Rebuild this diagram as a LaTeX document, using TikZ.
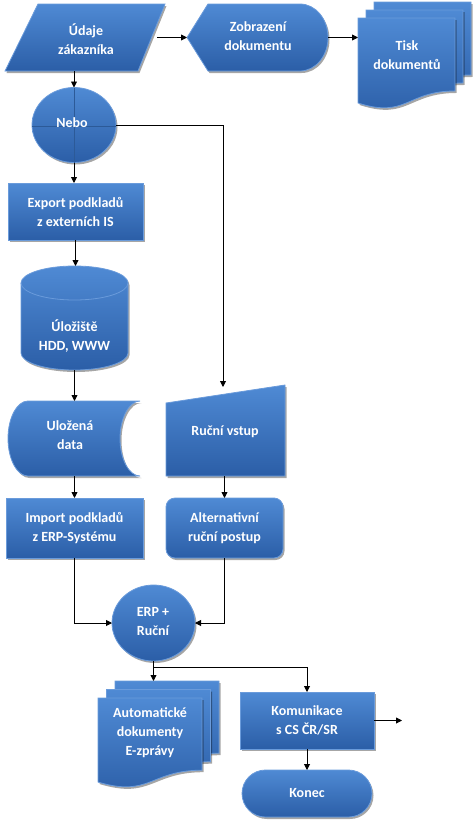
\documentclass[tikz,border=0pt]{standalone}
\usepackage{fontspec}
\setmainfont{Carlito}
\usetikzlibrary{shadows,arrows.meta,calc}
\definecolor{bltop}{HTML}{4F8AD4}
\definecolor{blbot}{HTML}{2B5EA7}
\definecolor{bledge}{HTML}{6A9BDB}
\definecolor{blline}{HTML}{2C5A98}
\newcommand\mydoc[4]{%
 \path[shp] (#1,#2) -- ({#1+#3},#2) -- ({#1+#3},{#2+0.802*#4})
   .. controls ({#1+0.5*#3},{#2+0.802*#4}) and ({#1+0.5*#3},{#2+1.107*#4}) .. (#1,{#2+0.934*#4}) -- cycle;}
\begin{document}
\begin{tikzpicture}[x=1pt,y=-1pt,
 shp/.style={top color=bltop,bottom color=blbot,draw=bledge,line width=0.8pt,
   drop shadow={shadow xshift=1.5pt,shadow yshift=-2pt,opacity=0.35,fill=black}},
 txt/.style={text=white,font=\bfseries\fontsize{14}{19}\selectfont,align=center,inner sep=0pt},
 box/.style={inner sep=0pt,outer sep=0pt},
 nshp/.style={shp,txt,inner sep=0pt,outer sep=0pt},
 arr/.style={draw=black,line width=0.9pt,-{Triangle[length=6pt,width=6pt]}}]
\useasboundingbox (0,0) rectangle (474,825);

% Udaje zakaznika
\path[shp] (38,4) -- (165,4) -- (138,71) -- (5,71) -- cycle;
\node[box,minimum width=144pt,minimum height=67pt] (ud) at (85,37.5) {};
\node[txt] (udt) at (86,39) {Údaje\\zákazníka};

% Zobrazeni dokumentu
\path[shp] (187,37.5) -- (208,4) -- (300,4)
  .. controls (315.5,4) and (328,19) .. (328,37.5)
  .. controls (328,56) and (315.5,71) .. (300,71) -- (208,71) -- cycle;
\node[box,minimum width=141pt,minimum height=67pt] (zob) at (257.5,37.5) {};
\node[txt] (zobt) at (258,36) {Zobrazení\\dokumentu};

% Tisk dokumentu
\mydoc{374}{2}{97}{91}
\mydoc{366}{10}{97}{91}
\mydoc{358}{18}{97}{91}
\node[box,minimum width=97pt,minimum height=74pt] (tisk) at (406.5,55) {};
\node[txt] (tiskt) at (407,55) {Tisk\\dokumentů};

% Nebo
\path[shp] (74,125) ellipse [x radius=42pt,y radius=37.5pt];
\draw[blline,line width=0.8pt] (74,87.5) -- (74,162.5) (32,126) -- (116,126);
\node[box,minimum width=84pt,minimum height=75pt] (nebo) at (74,125) {};
\node[txt] (nebot) at (72,123) {Nebo};

% Export
\node[nshp,minimum width=135pt,minimum height=57pt] (exp) at (75.5,211.5) {Export podkladů\\z externích IS};

% Cylinder
\path[shp] (21,283) -- (21,353) .. controls (21,362.4) and (44.95,370) .. (74.5,370)
  .. controls (104.05,370) and (128,362.4) .. (128,353) -- (128,283)
  .. controls (128,273.6) and (104.05,266) .. (74.5,266)
  .. controls (44.95,266) and (21,273.6) .. (21,283) -- cycle;
\draw[bledge,line width=0.8pt] (21,283) .. controls (21,292.4) and (44.95,300) .. (74.5,300)
  .. controls (104.05,300) and (128,292.4) .. (128,283);
\node[box,minimum width=107pt,minimum height=104pt] (cyl) at (74.5,318) {};
\node[txt] (cylt) at (74.5,336) {Úložiště\\HDD, WWW};

% Ulozena data
\path[shp] (28,401) -- (140,401) .. controls (129,401) and (120,418) .. (120,438.5)
  .. controls (120,459) and (129,476) .. (140,476) -- (28,476)
  .. controls (17,476) and (8,459) .. (8,438.5)
  .. controls (8,418) and (17,401) .. (28,401) -- cycle;
\node[box,minimum width=132pt,minimum height=75pt] (dat) at (74,438.5) {};
\node[txt] (datt) at (70,435) {Uložená\\data};

% Rucni vstup
\path[shp] (166,403) -- (285,385) -- (285,476) -- (166,476) -- cycle;
\node[box,minimum width=119pt,minimum height=89pt] (ruc) at (223,431.5) {};
\node[txt] (ruct) at (225,432) {Ruční vstup};

% Import
\node[nshp,minimum width=137pt,minimum height=60pt] (imp) at (74.5,528) {Import podkladů\\z ERP-Systému};

% Alternativni
\node[nshp,rounded corners=9pt,minimum width=117pt,minimum height=60pt] (alt) at (224.5,528) {Alternativní\\ruční postup};

% ERP + Rucni
\path[shp] (153.5,623) ellipse [x radius=41.5pt,y radius=38pt];
\node[box,minimum width=83pt,minimum height=76pt] (erp) at (153.5,623) {};
\node[txt] (erpt) at (153,622) {ERP +\\Ruční};

% Automaticke dokumenty
\mydoc{115}{681}{104}{90}
\mydoc{106.5}{689.5}{104}{90}
\mydoc{98}{698}{104}{90}
\node[box,minimum width=104pt,minimum height=104pt] (auto) at (150,733) {};
\node[txt] (autot) at (150,733) {Automatické\\dokumenty\\E-zprávy};

% Komunikace
\node[nshp,minimum width=134pt,minimum height=57pt] (kom) at (307,720.5) {Komunikace\\s CS ČR/SR};

% Konec
\node[nshp,rounded corners=23.5pt,minimum width=130pt,minimum height=47pt] (kon) at (307,793.5) {Konec};

% connectors
\coordinate (br) at (153.5,667);
\coordinate (out) at (402,720.5);
\draw[arr] (ud.east) -- (zob.west);
\draw[arr] (zob.east) -- (zob.east -| tisk.west);
\draw[arr] (nebo.north |- ud.south) -- (nebo.north);
\draw[arr] (nebo.east) -| (ruc.north);
\draw[arr] (nebo.south) -- (nebo.south |- exp.north);
\draw[arr] (exp.south) -- (exp.south |- cyl.north);
\draw[arr] (cyl.south) -- (cyl.south |- dat.north);
\draw[arr] (dat.south -| imp.north) -- (imp.north);
\draw[arr] (ruc.south -| alt.north) -- (alt.north);
\draw[arr] (imp.south) |- (erp.west);
\draw[arr] (alt.south) |- (erp.east);
\draw[arr] (erp.south) -- (erp.south |- auto.north);
\draw[arr] (br) -| (kom.north);
\draw[arr] (kom.east) -- (out);
\draw[arr] (kom.south) -- (kon.north);
\end{tikzpicture}
\end{document}
